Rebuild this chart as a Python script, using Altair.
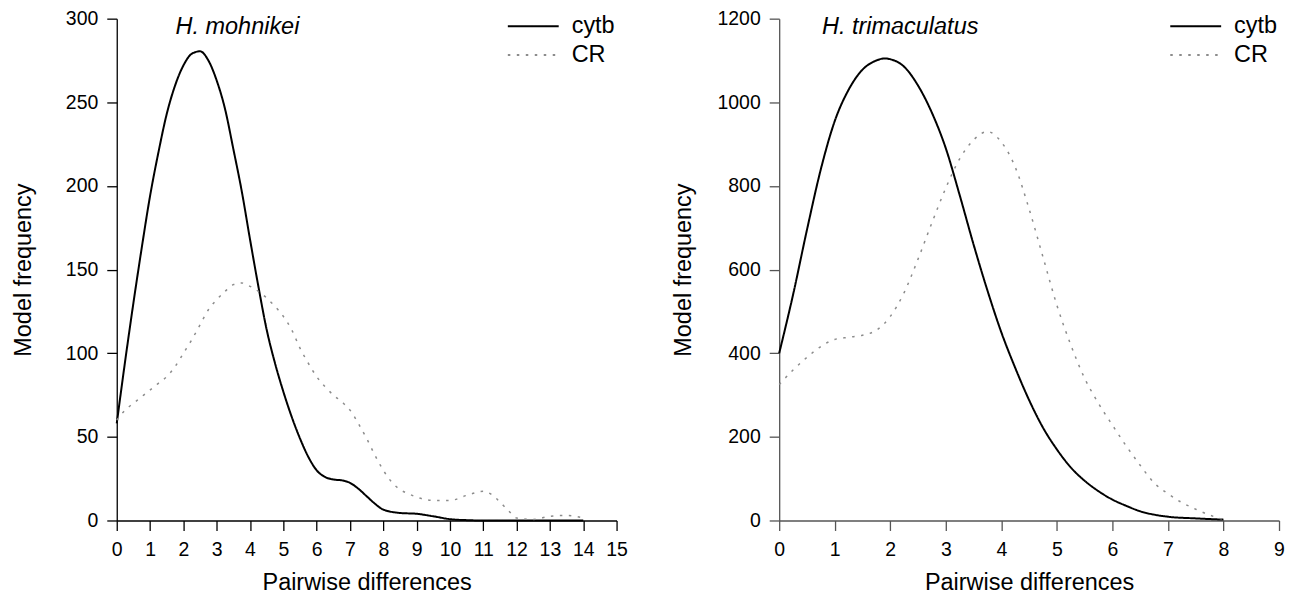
import altair as alt
import pandas as pd

# ---------------- data ----------------
mo_cytb_x = [0, 0.25, 0.5, 0.75, 1, 1.25, 1.5, 1.75, 2, 2.25, 2.5, 2.75, 3, 3.25, 3.5, 3.75,
             4, 4.25, 4.5, 4.75, 5, 5.25, 5.5, 5.75, 6, 6.25, 6.5, 6.75, 7, 7.25, 7.5, 7.75,
             8, 8.5, 9, 9.5, 10, 10.5, 11, 12, 13, 14]
mo_cytb_y = [58, 95, 130, 163, 194, 220, 243, 260, 272, 279, 280.5, 275, 263, 246, 222, 197,
             168, 140, 114, 94, 77, 62, 49, 38, 30, 26, 24.5, 24, 22.5, 19, 14.5, 10,
             6.5, 4.5, 4, 2.5, 0.8, 0.2, 0, 0, 0, 0]

mo_cr_x = [0, 0.25, 0.5, 0.75, 1, 1.25, 1.5, 1.75, 2, 2.25, 2.5, 2.75, 3, 3.25, 3.5, 3.75,
           4, 4.25, 4.5, 4.75, 5, 5.25, 5.5, 5.75, 6, 6.25, 6.5, 6.75, 7, 7.25, 7.5, 7.75,
           8, 8.25, 8.5, 8.75, 9, 9.5, 10, 10.5, 11, 11.25, 11.5, 11.75, 12, 12.5, 13, 13.5, 14]
mo_cr_y = [60, 66, 70, 74, 78, 82, 86, 92, 100, 108, 117, 126, 132, 137, 141, 142,
           140, 137, 133, 128, 122, 114, 103, 94, 86, 80, 75, 71, 66, 58, 49, 39,
           30, 23, 18.5, 16, 14, 12, 12, 15, 17.5, 15.5, 11, 6, 1.5, 0.6, 2.5, 3, 1.6]

tr_cytb_x = [0, 0.25, 0.5, 0.75, 1, 1.25, 1.5, 1.75, 1.9, 2, 2.25, 2.5, 2.75, 3, 3.25, 3.5,
             3.75, 4, 4.25, 4.5, 4.75, 5, 5.25, 5.5, 5.75, 6, 6.25, 6.5, 6.75, 7, 7.5, 8]
tr_cytb_y = [400, 540, 695, 840, 955, 1030, 1078, 1100, 1105, 1103, 1085, 1040, 975, 890, 778, 660,
             550, 450, 365, 288, 222, 170, 127, 95, 70, 50, 35, 22, 14, 9, 5, 2]

tr_cr_x = [0, 0.25, 0.5, 0.75, 1, 1.25, 1.5, 1.75, 2, 2.25, 2.5, 2.75, 3, 3.25, 3.5, 3.75,
           4, 4.25, 4.5, 4.75, 5, 5.25, 5.5, 5.75, 6, 6.25, 6.5, 6.75, 7, 7.25, 7.5, 7.75, 8]
tr_cr_y = [325, 360, 390, 416, 433, 438, 443, 455, 488, 545, 625, 712, 795, 865, 910, 930,
           905, 845, 745, 630, 515, 420, 340, 280, 228, 178, 132, 90, 64, 43, 27, 13, 2]

series_names = ["cytb", "CR"]
mo_x_ticks = list(range(0, 16))
mo_y_ticks = [0, 50, 100, 150, 200, 250, 300]
tr_x_ticks = list(range(0, 10))
tr_y_ticks = [0, 200, 400, 600, 800, 1000, 1200]

FONT = "Liberation Sans"


def frame(xs_a, ys_a, xs_b, ys_b):
    rows = [{"x": x, "y": y, "series": series_names[0]} for x, y in zip(xs_a, ys_a)]
    rows += [{"x": x, "y": y, "series": series_names[1]} for x, y in zip(xs_b, ys_b)]
    return pd.DataFrame(rows)


def panel(df, xmax, xticks, ymax, yticks, title, title_dx, axis_color, ytitle_pad):
    legend = alt.Legend(
        title=None, orient="none", legendX=391, legendY=-4,
        symbolType="stroke", symbolSize=2601, symbolStrokeWidth=2,
        clipHeight=23, rowPadding=5, labelOffset=12, padding=0,
        labelFont=FONT, labelFontSize=23.5, labelColor="black",
    )
    common = dict(grid=False, tickSize=10, domainColor=axis_color, tickColor=axis_color,
                  labelColor="black", titleColor="black", labelFont=FONT, titleFont=FONT,
                  labelFontSize=19.5, titleFontSize=23.5, titleFontWeight="normal",
                  domainWidth=1.3, tickWidth=1.3, labelFlush=False)
    xaxis = alt.Axis(values=xticks, title="Pairwise differences", labelPadding=10.5,
                     titlePadding=11, **common)
    yaxis = alt.Axis(values=yticks, title="Model frequency", format="d", labelPadding=9,
                     titlePadding=ytitle_pad, **common)
    return alt.Chart(df).mark_line(interpolate="monotone").encode(
        x=alt.X("x:Q", scale=alt.Scale(domain=[0, xmax], nice=False), axis=xaxis),
        y=alt.Y("y:Q", scale=alt.Scale(domain=[0, ymax], nice=False), axis=yaxis),
        color=alt.Color("series:N", sort=series_names,
                        scale=alt.Scale(domain=series_names, range=["#000000", "#8c8c8c"]),
                        legend=legend),
        strokeDash=alt.StrokeDash("series:N", sort=series_names,
                                  scale=alt.Scale(domain=series_names, range=[[1, 0], [2.5, 6.5]]),
                                  legend=legend),
        strokeWidth=alt.StrokeWidth("series:N",
                                    scale=alt.Scale(domain=series_names, range=[2, 1.5]),
                                    legend=None),
    ).properties(
        width=501, height=503,
        title=alt.TitleParams(title, anchor="start", frame="group", dx=title_dx, offset=-48.5,
                              baseline="alphabetic", font=FONT, fontSize=23.5,
                              fontStyle="italic", fontWeight="normal", color="black"),
    )


left = panel(frame(mo_cytb_x, mo_cytb_y, mo_cr_x, mo_cr_y), 15, mo_x_ticks, 300, mo_y_ticks,
             "H. mohnikei", 59, "#000000", 30)
right = panel(frame(tr_cytb_x, tr_cytb_y, tr_cr_x, tr_cr_y), 9, tr_x_ticks, 1200, tr_y_ticks,
              "H. trimaculatus", 43, "#555555", 22)

chart = alt.hconcat(left, right, spacing=43).resolve_scale(
    x="independent", y="independent", color="independent", strokeDash="independent"
).resolve_legend(color="independent", strokeDash="independent").configure_view(
    stroke=None
).properties(padding={"left": 3, "top": 0, "right": 0, "bottom": 0})

chart.save("out.html", embed_options={"renderer": "svg", "actions": False})
